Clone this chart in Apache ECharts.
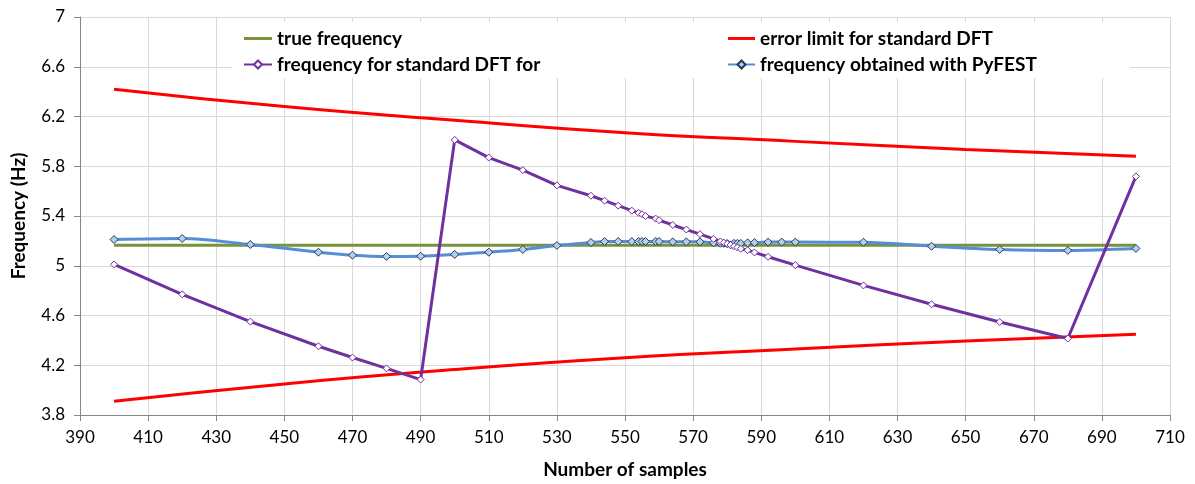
<!DOCTYPE html>
<html><head><meta charset="utf-8">
<script src="https://cdn.jsdelivr.net/npm/echarts@6/dist/echarts.min.js"></script>
<style>html,body{margin:0;padding:0;background:#fff}#c{width:1195px;height:484px}</style>
</head><body><div id="c"></div>
<script>
// ---- data ----
const trueX = [400, 700];
const trueY = [5.165, 5.165];

const limitX = [400, 450, 500, 550, 600, 650, 700];
const limitUpper = [6.42, 6.28, 6.17, 6.07, 6.0, 5.935, 5.88];
const limitLower = [3.91, 4.05, 4.165, 4.26, 4.33, 4.395, 4.45];

const dftX = [400,420,440,460,470,480,490,500,510,520,530,540,544,548,552,554,555,556,559,560,564,568,572,576,578,579,580,581,582,583,584,586,588,592,600,620,640,660,680,700];
const dftY = [5.011,4.77,4.551,4.353,4.262,4.175,4.085,6.012,5.87,5.769,5.646,5.563,5.523,5.483,5.443,5.425,5.414,5.40,5.379,5.366,5.328,5.291,5.254,5.216,5.195,5.186,5.176,5.167,5.157,5.147,5.136,5.125,5.107,5.072,5.005,4.842,4.69,4.548,4.415,5.718];

const pyX = [400,420,440,460,470,480,490,500,510,520,530,540,544,548,552,554,555,556,559,560,564,568,572,576,578,579,580,581,582,583,584,586,588,592,596,600,620,640,660,680,700];
const pyY = [5.211,5.219,5.171,5.109,5.085,5.075,5.077,5.091,5.109,5.131,5.163,5.187,5.195,5.195,5.195,5.195,5.195,5.195,5.195,5.195,5.192,5.192,5.192,5.184,5.181,5.18,5.179,5.168,5.18,5.18,5.18,5.184,5.186,5.19,5.19,5.19,5.189,5.157,5.131,5.123,5.139];

const xTicks = {min: 390, max: 710, step: 20};
const yTicks = {min: 3.8, max: 7, step: 0.4};

const names = ['true frequency', 'error limit for standard DFT', 'frequency for standard DFT for', 'frequency obtained with PyFEST'];

const zip = (xs, ys) => xs.map((x, i) => [x, ys[i]]);

const FONT = 'Lato';
const LINE_ICON = 'path://M0,0 L28,0 L28,3 L0,3 Z';
const legendText = {fontFamily: FONT, fontWeight: 'bold', fontSize: 19, color: '#000'};
const chart = echarts.init(document.getElementById('c'), null, {renderer: 'canvas'});
chart.setOption({
  animation: false,
  backgroundColor: '#fff',
  grid: {left: 80, right: 25, top: 17, bottom: 68},
  graphic: [{type: 'rect', left: 232, top: 22, z: 1, shape: {width: 898, height: 56}, style: {fill: '#fff'}}],
  legend: [
    {data: [{name: names[0], icon: LINE_ICON}, {name: names[2]}], orient: 'vertical', left: 238, top: 24, itemGap: 7,
     itemWidth: 28, itemHeight: 10, z: 10, textStyle: legendText},
    {data: [{name: names[1], icon: LINE_ICON}, {name: names[3]}], orient: 'vertical', left: 722, top: 24, itemGap: 7,
     itemWidth: 27, itemHeight: 10, z: 10, textStyle: legendText}
  ],
  xAxis: {
    type: 'value', min: xTicks.min, max: xTicks.max, interval: xTicks.step,
    name: 'Number of samples', nameLocation: 'middle', nameGap: 45,
    nameTextStyle: {fontFamily: FONT, fontWeight: 'bold', fontSize: 19, color: '#000'},
    axisLine: {show: true, lineStyle: {color: '#868686', width: 1}},
    axisTick: {show: true, length: 6, lineStyle: {color: '#868686'}},
    axisLabel: {fontFamily: FONT, fontSize: 17, color: '#000', margin: 14},
    splitLine: {show: true, lineStyle: {color: '#D9D9D9', width: 1}}
  },
  yAxis: {
    type: 'value', min: yTicks.min, max: yTicks.max, interval: yTicks.step,
    name: 'Frequency (Hz)', nameLocation: 'middle', nameGap: 52, nameRotate: 90,
    nameTextStyle: {fontFamily: FONT, fontWeight: 'bold', fontSize: 19, color: '#000'},
    axisLine: {show: true, lineStyle: {color: '#868686', width: 1}},
    axisTick: {show: true, length: 6, lineStyle: {color: '#868686'}},
    axisLabel: {fontFamily: FONT, fontSize: 17, color: '#000', margin: 15,
      formatter: v => String(Math.round(v * 10) / 10)},
    splitLine: {show: true, lineStyle: {color: '#D9D9D9', width: 1}}
  },
  series: [
    {name: names[0], type: 'line', data: zip(trueX, trueY), showSymbol: false, symbol: 'none',
     lineStyle: {color: '#77933C', width: 3}, itemStyle: {color: '#77933C'}, z: 2},
    {name: names[1], type: 'line', data: zip(limitX, limitUpper), symbol: 'none', smooth: true,
     lineStyle: {color: '#FF0000', width: 3}, itemStyle: {color: '#FF0000'}, z: 3},
    {name: names[1], type: 'line', data: zip(limitX, limitLower), symbol: 'none', smooth: true,
     lineStyle: {color: '#FF0000', width: 3}, itemStyle: {color: '#FF0000'}, z: 3},
    {name: names[3], type: 'line', data: zip(pyX, pyY), smooth: 0.3, symbol: 'diamond', symbolSize: 8,
     lineStyle: {color: '#558ED5', width: 3},
     itemStyle: {color: '#B9CDE5', borderColor: '#1F3864', borderWidth: 1}, z: 4},
    {name: names[2], type: 'line', data: zip(dftX, dftY), symbol: 'diamond', symbolSize: 7,
     lineStyle: {color: '#7030A0', width: 3},
     itemStyle: {color: '#FFFFFF', borderColor: '#7030A0', borderWidth: 1}, z: 5}
  ]
});
</script>
</body></html>
